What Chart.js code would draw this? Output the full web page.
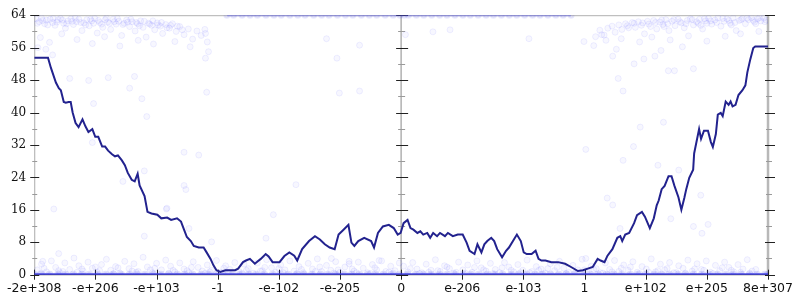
<!DOCTYPE html>
<html><head><meta charset="utf-8">
<script src="https://cdn.jsdelivr.net/npm/chart.js@4"></script>
<style>html,body{margin:0;padding:0;background:#fff}#wrap{width:800px;height:300px}</style>
</head><body><div id="wrap"><canvas id="c" width="800" height="300"></canvas></div>
<script>
// ---- data ----
const xTickLabels = ['-2e+308','-e+206','-e+103','-1','-e-102','-e-205','0','e-206','e-103','1','e+102','e+205','8e+307'];
const xMin = -6, xMax = 6;
const yMin = 0, yMax = 64;

const lineX = [-6.00,-5.775,-5.727,-5.646,-5.598,-5.565,-5.517,-5.485,-5.437,-5.404,-5.372,-5.324,-5.275,-5.211,-5.163,-5.114,-5.050,-5.002,-4.953,-4.889,-4.841,-4.792,-4.728,-4.680,-4.631,-4.567,-4.518,-4.470,-4.406,-4.357,-4.309,-4.277,-4.196,-4.148,-4.083,-3.987,-3.922,-3.826,-3.761,-3.665,-3.600,-3.552,-3.504,-3.439,-3.391,-3.310,-3.230,-3.181,-3.117,-3.069,-3.020,-2.956,-2.875,-2.795,-2.714,-2.666,-2.585,-2.537,-2.473,-2.392,-2.344,-2.295,-2.215,-2.167,-2.102,-1.989,-1.909,-1.828,-1.748,-1.699,-1.619,-1.506,-1.409,-1.329,-1.248,-1.168,-1.087,-1.023,-0.942,-0.862,-0.813,-0.765,-0.701,-0.604,-0.491,-0.443,-0.379,-0.298,-0.201,-0.121,-0.056,-0.008,
0.040,0.105,0.153,0.201,0.266,0.314,0.362,0.427,0.475,0.524,0.588,0.636,0.717,0.765,0.846,0.926,1.007,1.071,1.120,1.200,1.248,1.313,1.361,1.409,1.474,1.522,1.571,1.651,1.716,1.764,1.844,1.893,1.957,2.005,2.054,2.134,2.199,2.247,2.295,2.360,2.456,2.569,2.682,2.779,2.891,2.972,3.053,3.133,3.214,3.262,3.326,3.375,3.455,3.536,3.584,3.616,3.665,3.729,3.810,3.858,3.938,3.987,4.067,4.132,4.180,4.212,4.261,4.309,4.373,4.422,4.470,4.535,4.583,4.631,4.663,4.712,4.776,4.792,4.824,4.873,4.905,4.953,5.018,5.066,5.098,5.147,5.179,5.227,5.259,5.308,5.356,5.388,5.420,5.469,5.517,5.582,5.630,5.662,5.710,5.759,5.791,6.000];
const lineY = [53.5,53.5,51.0,47.4,46.0,45.5,42.6,42.4,42.6,42.6,40.0,37.4,36.4,38.3,36.6,35.2,35.9,34.0,34.0,31.6,31.6,30.6,29.7,29.2,29.4,28.2,27.0,25.1,23.4,23.0,24.9,22.0,19.4,15.5,15.1,14.8,13.9,14.1,13.5,13.9,13.1,11.2,9.3,8.3,7.1,6.7,6.7,5.5,3.9,2.3,1.1,0.7,1.1,1.1,1.1,1.5,3.1,3.5,3.9,2.7,3.3,3.9,5.1,4.5,3.1,3.1,4.6,5.5,4.7,3.5,6.3,8.3,9.5,8.7,7.5,6.7,6.3,9.9,11.1,12.3,7.9,7.1,8.3,9.1,8.3,6.7,10.3,11.9,12.3,11.5,9.9,10.3,
12.7,13.5,11.5,11.1,10.3,10.7,9.9,10.3,9.1,10.3,9.5,10.3,9.5,10.3,9.5,9.9,9.9,7.9,5.9,5.1,7.5,5.5,7.5,8.3,9.1,8.3,6.3,4.3,5.9,6.7,8.7,9.9,8.3,5.5,5.1,5.1,5.9,3.9,3.5,3.5,3.1,3.1,2.7,1.9,0.9,1.1,1.5,1.9,3.9,3.5,3.1,4.7,6.3,9.1,9.5,8.3,9.9,10.3,12.7,14.7,15.5,14.3,11.5,13.9,17.1,18.3,21.1,21.9,24.3,24.3,21.9,19.1,16.0,18.9,21.1,23.9,25.9,29.9,32.3,35.9,33.5,35.5,35.5,32.7,31.5,34.7,39.5,39.9,39.1,42.7,41.9,42.7,41.5,41.9,44.3,45.5,46.7,49.9,53.1,55.9,56.3,56.3];

// samples lying on y = 0
const zeroRowX = [-6,-5.88,-5.75,-5.61,-5.49,-5.36,-5.22,-5.1,-4.97,-4.83,-4.71,-4.58,-4.44,-4.32,-4.19,-4.05,-3.93,-3.8,-3.66,-3.54,-3.41,-3.27,-3.15,-3.02,-2.88,-2.76,-2.63,-2.49,-2.37,-2.24,-2.1,-1.98,-1.85,-1.71,-1.59,-1.46,-1.32,-1.2,-1.07,-0.93,-0.81,-0.68,-0.54,-0.42,-0.29,-0.15,-0.03,0.1,0.24,0.36,0.49,0.63,0.75,0.88,1.02,1.14,1.27,1.41,1.53,1.66,1.8,1.92,2.05,2.19,2.31,2.44,2.58,2.7,2.83,2.97,3.09,3.22,3.36,3.48,3.61,3.75,3.87,4.0,4.14,4.26,4.39,4.53,4.65,4.78,4.92,5.04,5.17,5.31,5.43,5.56,5.7,5.82,5.95,6];
// samples lying on y = 64
const topRowX = [-2.85,-2.74,-2.6,-2.47,-2.35,-2.21,-2.08,-1.96,-1.82,-1.69,-1.57,-1.43,-1.3,-1.18,-1.04,-0.91,-0.79,-0.65,-0.52,-0.4,-0.26,-0.13,-0.02,0.05,0.12,0.25,0.37,0.5,0.63,0.75,0.88,1.01,1.13,1.26,1.39,1.51,1.64,1.77,1.89,2.02,2.15,2.27,2.4,2.53,2.65,2.78];

const cloudTopLeft = [[-5.97,63.1],[-5.92,62.4],[-5.88,63.3],[-5.83,61.9],[-5.8,62.8],[-5.74,63.0],[-5.7,62.2],[-5.66,61.5],[-5.61,62.9],[-5.57,63.2],[-5.52,62.0],[-5.49,60.8],[-5.45,62.6],[-5.4,63.1],[-5.36,61.7],[-5.31,62.4],[-5.27,63.0],[-5.22,60.2],[-5.19,62.1],[-5.14,62.9],[-5.1,61.4],[-5.06,62.6],[-5.01,63.2],[-4.97,59.6],[-4.93,62.2],[-4.88,61.0],[-4.84,62.9],[-4.8,62.3],[-4.75,60.5],[-4.71,63.0],[-4.66,61.8],[-4.62,62.5],[-4.57,59.0],[-4.53,62.0],[-4.49,62.8],[-4.44,61.2],[-4.4,62.4],[-4.35,60.1],[-4.31,61.9],[-4.26,62.6],[-4.22,61.0],[-4.17,58.6],[-4.13,62.0],[-4.08,61.5],[-4.03,60.4],[-3.99,62.1],[-3.94,61.3],[-3.9,59.5],[-3.85,61.7],[-3.79,60.8],[-3.74,61.9],[-3.68,60.0],[-3.62,61.2],[-3.55,59.2],[-3.48,60.6],[-3.41,58.1],[-3.34,60.1],[-3.27,59.0],
[-5.9,58.5],[-5.75,57.3],[-5.55,59.4],[-5.3,58.0],[-5.05,57.0],[-4.85,58.7],[-4.6,56.4],[-4.3,57.8],[-4.05,56.9],[-3.7,57.5],[-3.45,56.2],[-5.94,56.0],[-5.7,54.2],[-3.2,59.5],[-3.17,57.4],[-3.15,55.0],[-3.21,60.5],
[-5.95,62.0],[-5.86,62.7],[-5.78,61.6],[-5.69,63.2],[-5.63,62.3],[-5.54,62.8],[-5.47,61.9],[-5.38,62.5],[-5.33,63.3],[-5.24,62.2],[-5.16,61.6],[-5.08,63.0],[-5.03,62.0],[-4.95,62.7],[-4.9,61.8],[-4.82,63.3],[-4.77,62.0],[-4.69,62.4],[-4.64,63.2],[-4.55,61.7],[-4.47,62.3],[-4.42,63.0],[-4.33,62.2],[-4.28,61.4],[-4.2,62.5],[-4.11,61.8],[-4.06,62.6],[-3.97,61.6],[-3.92,62.2],[-3.83,60.9],[-3.77,61.5],[-3.66,61.3],[-3.58,60.4]];
const cloudTopRight = [[3.25,60.3],[3.32,59.1],[3.38,60.8],[3.45,61.3],[3.5,59.8],[3.56,61.6],[3.61,60.5],[3.67,61.9],[3.72,60.9],[3.78,62.2],[3.83,61.0],[3.88,62.4],[3.93,61.5],[3.98,59.4],[4.03,62.5],[4.08,61.2],[4.13,62.7],[4.18,60.6],[4.23,62.3],[4.28,61.7],[4.33,62.9],[4.38,60.2],[4.43,62.5],[4.48,61.4],[4.53,63.0],[4.58,62.1],[4.63,60.9],[4.68,62.7],[4.73,63.1],[4.78,61.6],[4.83,62.4],[4.88,63.0],[4.93,60.6],[4.98,62.6],[5.03,63.2],[5.08,61.8],[5.13,62.8],[5.18,63.3],[5.23,61.3],[5.28,62.5],[5.33,63.1],[5.38,62.0],[5.43,63.3],[5.48,60.2],[5.53,62.7],[5.58,63.2],[5.63,61.9],[5.68,62.9],[5.73,63.4],[5.78,62.3],[5.83,63.1],[5.88,62.6],[5.93,63.3],[5.97,62.8],
[3.35,57.8],[3.6,58.2],[3.9,57.4],[4.1,58.6],[4.4,57.9],[4.7,58.9],[5.0,57.6],[5.3,58.8],[5.55,59.4],[5.85,60.0],[3.15,56.5],[3.52,55.6],[4.25,55.3],[4.6,56.2],
[3.7,61.4],[3.81,62.0],[3.95,62.1],[4.05,61.8],[4.16,62.2],[4.26,62.8],[4.36,61.9],[4.46,62.9],[4.56,62.4],[4.66,61.9],[4.76,62.9],[4.86,62.0],[4.96,63.1],[5.06,62.6],[5.16,62.2],[5.26,63.2],[5.36,62.7],[5.46,62.2],[5.56,62.9],[5.66,63.3],[5.76,62.7],[5.86,63.4],[5.95,62.4],[5.0,62.0],[5.4,61.6],[5.8,61.9],[4.3,61.2],[4.9,61.5]];
const cloudBottomLeft = [[-5.95,1.2],[-5.88,2.6],[-5.8,0.7],[-5.72,3.4],[-5.65,1.8],[-5.58,0.5],[-5.5,2.9],[-5.42,1.3],[-5.35,4.1],[-5.27,2.2],[-5.2,0.9],[-5.12,3.1],[-5.05,1.6],[-4.97,0.6],[-4.9,2.5],[-4.82,3.8],[-4.75,1.1],[-4.67,2.0],[-4.6,0.4],[-4.52,3.3],[-4.45,1.5],[-4.37,2.7],[-4.3,0.8],[-4.22,4.3],[-4.15,1.9],[-4.07,0.5],[-4.0,2.8],[-3.92,1.2],[-3.85,3.6],[-3.77,2.1],[-3.7,0.7],[-3.62,2.9],[-3.55,1.4],[-3.47,0.5],[-3.4,3.2],[-3.32,1.8],[-3.25,0.9],[-3.17,2.4],[-3.1,1.1],[-3.02,3.5],[-2.95,0.6],[-2.87,2.2],[-2.8,1.3],[-2.72,3.0],[-2.65,0.8],[-2.57,2.6],[-2.5,1.5],[-2.42,0.4],[-2.35,2.9],[-2.27,1.0],[-2.2,3.7],[-2.12,1.7],[-2.05,0.6],[-1.97,2.4],[-1.9,1.2],[-1.82,3.4],[-1.75,0.9],[-1.67,2.0],[-1.6,0.5],[-1.52,2.8],[-1.45,1.4],[-1.37,3.9],[-1.3,0.8],[-1.22,2.3],[-1.15,1.1],[-1.07,3.2],[-1.0,0.6],[-0.92,1.9],[-0.85,2.7],[-0.77,0.9],[-0.7,3.1],[-0.62,1.6],[-0.55,0.5],[-0.47,2.5],[-0.4,1.2],[-0.32,3.4],[-0.25,0.8],[-0.17,2.1],[-0.1,1.0],[-0.03,2.9],
[-5.9,0.3],[-5.6,1.0],[-5.3,0.6],[-5.0,1.9],[-4.7,0.3],[-4.4,0.9],[-4.1,1.2],[-3.8,0.4],[-3.5,1.0],[-3.2,0.4],[-2.9,1.6],[-2.6,0.3],[-2.3,0.9],[-2.0,1.5],[-1.7,0.3],[-1.4,0.8],[-1.1,0.4],[-0.8,1.4],[-0.5,0.3],[-0.2,0.6],
[-5.84,1.6],[-5.53,0.8],[-5.22,1.4],[-4.93,1.0],[-4.63,1.7],[-4.33,0.6],[-4.03,1.6],[-3.73,1.1],[-3.43,1.8],[-3.13,0.7],[-2.83,0.4],[-2.53,1.1],[-2.23,1.8],[-1.93,0.5],[-1.63,1.3],[-1.33,1.9],[-1.03,1.2],[-0.73,0.5],[-0.43,1.7],[-0.13,0.4]];
const cloudBottomRight = [[0.04,2.1],[0.11,0.7],[0.19,3.0],[0.26,1.4],[0.34,0.5],[0.41,2.6],[0.49,1.1],[0.56,3.7],[0.64,0.8],[0.71,2.2],[0.79,1.5],[0.86,0.4],[0.94,3.1],[1.01,1.2],[1.09,2.4],[1.16,0.6],[1.24,3.4],[1.31,1.7],[1.39,0.9],[1.46,2.8],[1.54,1.3],[1.61,0.5],[1.69,3.0],[1.76,1.9],[1.84,0.7],[1.91,2.5],[1.99,1.1],[2.06,3.6],[2.14,0.8],[2.21,2.0],[2.29,1.4],[2.36,0.4],[2.44,2.7],[2.51,1.0],[2.59,3.3],[2.66,1.6],[2.74,0.6],[2.81,2.3],[2.89,1.2],[2.96,3.8],[3.04,0.9],[3.11,2.1],[3.19,1.5],[3.26,0.5],[3.34,2.9],[3.41,1.3],[3.49,3.5],[3.56,0.8],[3.64,2.4],[3.71,1.1],[3.79,3.2],[3.86,0.6],[3.94,2.0],[4.01,1.4],[4.09,3.9],[4.16,0.7],[4.24,2.6],[4.31,1.2],[4.39,3.0],[4.46,0.5],[4.54,2.2],[4.61,1.6],[4.69,3.6],[4.76,0.9],[4.84,2.7],[4.91,1.3],[4.99,3.4],[5.06,0.6],[5.14,2.3],[5.21,1.0],[5.29,3.1],[5.36,1.8],[5.44,0.7],[5.51,2.5],[5.59,1.4],[5.66,3.7],[5.74,0.9],
[0.3,0.3],[0.6,1.0],[0.9,0.6],[1.2,1.8],[1.5,0.3],[1.8,1.1],[2.1,0.5],[2.4,1.5],[2.7,0.3],[3.0,1.2],[3.3,0.4],[3.6,1.6],[3.9,0.3],[4.2,1.0],[4.5,0.5],[4.8,1.4],[5.1,0.3],[5.4,1.1],[5.7,0.4],
[0.15,1.5],[0.45,0.6],[0.75,1.9],[1.05,0.4],[1.35,1.2],[1.65,1.7],[1.95,0.5],[2.25,1.1],[2.55,1.8],[2.85,0.5],[3.15,1.3],[3.45,0.7],[3.75,1.9],[4.05,0.6],[4.35,1.5],[4.65,0.4],[4.95,1.1],[5.25,1.7],[5.55,0.6],[5.8,1.3]];
const cloudSparse = [[-5.81,55.6],[-5.42,48.4],[-5.11,47.9],[-4.79,48.6],[-4.44,46.0],[-4.36,48.9],[-5.03,42.2],[-4.24,43.4],[-4.16,39.0],[-3.55,30.2],[-3.31,29.5],[-4.20,25.6],[-4.55,23.0],[-3.55,22.0],[-3.52,21.0],[-5.05,32.6],[-5.68,16.2],[-3.84,16.2],[-1.22,58.2],[-0.68,56.6],[-1.05,53.4],[-3.20,53.4],[-3.18,45.0],[-1.01,44.8],[-0.68,45.3],[0.07,59.2],[0.52,59.9],[0.80,60.4],[2.09,58.2],[2.99,57.5],[3.18,58.7],[3.28,59.2],[3.46,53.9],[3.97,53.2],[4.15,53.9],[3.81,52.0],[4.37,50.3],[4.47,50.3],[4.78,50.8],[3.55,48.4],[3.63,45.3],[3.02,30.9],[3.63,28.2],[4.20,27.0],[4.54,25.8],[4.90,19.6],[3.37,18.9],[4.29,37.6],[3.91,36.4],[3.80,31.6],[3.46,17.2],[4.41,13.8],[4.78,11.9],[5.02,12.4],[4.92,10.2],[3.58,11.4],[-1.72,22.2],[-2.09,14.8],[-3.47,11.4],[-3.83,16.4],[-3.10,8.1],[-2.21,9.0],[-1.14,4.0],[-0.85,3.3],[-0.36,3.5],[-4.20,9.5],[-5.60,5.2],[-5.86,3.3],[3.02,4.0]];

// ---- build ----
const toXY = (xs, ys) => xs.map((x, i) => ({x, y: ys[i]}));
const pairs = arr => arr.map(([x, y]) => ({x, y}));
const faint = {backgroundColor:'rgba(80,80,255,0.045)', borderColor:'rgba(80,80,255,0.085)', borderWidth:1, pointRadius:3, showLine:false, pointHoverRadius:3};

const axisDecor = {
  id: 'axisDecor',
  beforeDatasetsDraw(chart) {
    const {ctx, chartArea: a, scales: {x, y}} = chart;
    const seg = (x1, y1, x2, y2, c, w) => { ctx.strokeStyle = c; ctx.lineWidth = w; ctx.beginPath(); ctx.moveTo(x1, y1); ctx.lineTo(x2, y2); ctx.stroke(); };
    ctx.save();
    const x0 = x.getPixelForValue(0);
    seg(a.left, a.top + 0.5, a.right, a.top + 0.5, '#b0b0b0', 1);
    seg(a.left + 0.5, a.top, a.left + 0.5, a.bottom, '#aaaaaa', 1);
    seg(x0, a.top, x0, a.bottom, '#b0b0b0', 1.5);
    seg(a.right, a.top, a.right, a.bottom, '#b8b8b8', 2.5);
    seg(a.left, a.bottom, a.right, a.bottom, '#333333', 1);
    y.ticks.forEach(t => {
      const py = Math.round(y.getPixelForValue(t.value)) + 0.5;
      const major = t.value % 8 === 0;
      const c = major ? '#222222' : '#9a9a9a';
      if (major) {
        seg(a.left - 4, py, a.left + 5, py, c, 1);
        seg(x0 - 5, py, x0 + 7, py, c, 1);
        seg(a.right - 3, py, a.right + 7, py, c, 1);
      } else {
        seg(a.left - 2, py, a.left + 3, py, c, 1);
        seg(x0 - 3, py, x0 + 4, py, c, 1);
        seg(a.right - 2, py, a.right + 4, py, c, 1);
      }
    });
    x.ticks.forEach(t => {
      const px = Math.round(x.getPixelForValue(t.value)) + 0.5;
      seg(px, a.bottom - 5, px, a.bottom + 5, '#222222', 1);
    });
    ctx.restore();
  }
};

new Chart(document.getElementById('c'), {
  type: 'scatter',
  data: {
    datasets: [
      {data: toXY(lineX, lineY), showLine: true, borderColor: '#22228e', borderWidth: 2, pointRadius: 0, tension: 0, fill: false},
      {data: zeroRowX.map(x => ({x, y: 0})), showLine: true, borderColor: 'rgba(55,55,228,0.9)', borderWidth: 3, pointRadius: 2.5, backgroundColor: 'rgba(60,60,230,0.12)', pointBorderColor: 'rgba(60,60,230,0.15)'},
      {data: topRowX.map(x => ({x, y: 64})), showLine: true, borderColor: 'rgba(80,80,235,0.5)', borderWidth: 2, pointRadius: 2.5, backgroundColor: 'rgba(80,80,235,0.08)', pointBorderColor: 'rgba(80,80,235,0.12)'},
      Object.assign({data: pairs(cloudTopLeft)}, faint),
      Object.assign({data: pairs(cloudTopRight)}, faint),
      Object.assign({data: pairs(cloudBottomLeft)}, faint),
      Object.assign({data: pairs(cloudBottomRight)}, faint),
      Object.assign({data: pairs(cloudSparse)}, faint)
    ]
  },
  options: {
    responsive: false,
    animation: false,
    events: [],
    layout: {padding: {left: 0, right: 27, top: 8, bottom: 0}},
    plugins: {legend: {display: false}, tooltip: {enabled: false}},
    scales: {
      x: {
        type: 'linear', min: xMin, max: xMax,
        grid: {display: false, drawTicks: false}, border: {display: false},
        afterFit: s => { s.height = 25.3; },
        afterBuildTicks: s => { s.ticks = xTickLabels.map((_, i) => ({value: xMin + i})); },
        ticks: {autoSkip: false, maxRotation: 0, padding: 7, color: '#111',
          font: {family: 'DejaVu Sans', size: 12.5},
          callback: v => xTickLabels[Math.round(v - xMin)]}
      },
      y: {
        type: 'linear', min: yMin, max: yMax,
        grid: {display: false, drawTicks: false}, border: {display: false},
        afterFit: s => { s.width = 28; },
        ticks: {stepSize: 4, autoSkip: false, padding: 8, color: '#111',
          font: {family: 'DejaVu Serif', size: 12},
          callback: v => (v % 8 === 0 ? String(v) : '')}
      }
    }
  },
  plugins: [axisDecor]
});
</script>
</body></html>
